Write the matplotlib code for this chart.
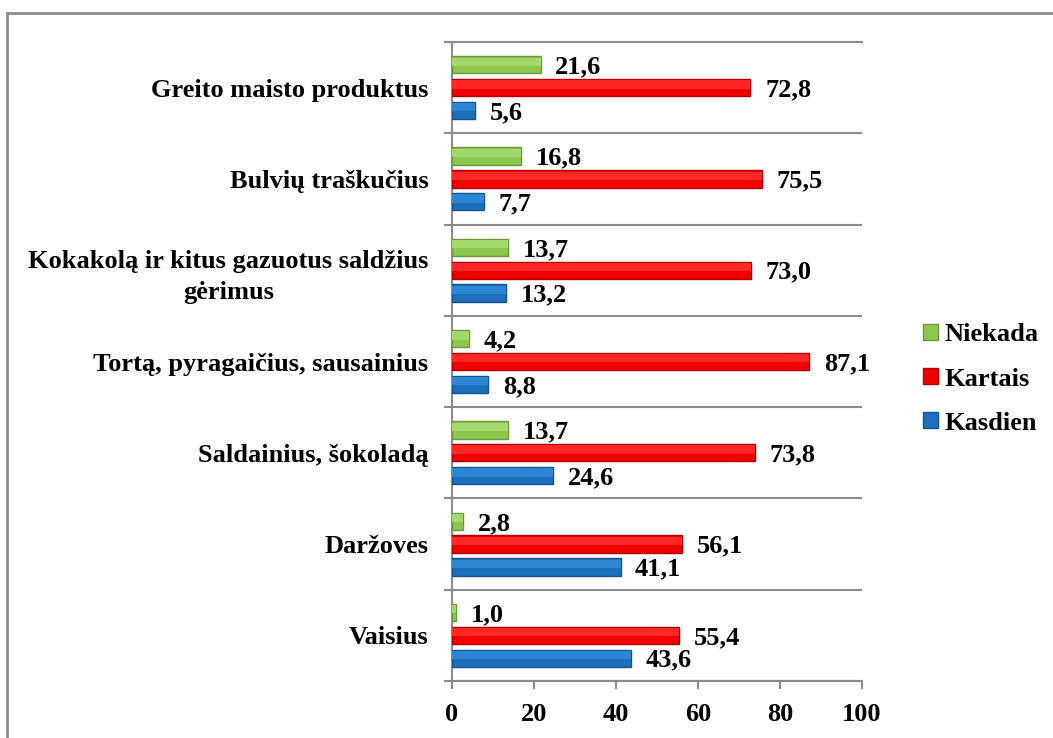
import matplotlib.pyplot as plt
import numpy as np

categories = ['Vaisius', 'Daržoves', 'Saldainius, šokoladą',
              'Tortą, pyragaičius, sausainius',
              'Kokakolą ir kitus gazuotus saldžius\ngėrimus',
              'Bulvių traškučius', 'Greito maisto produktus']
niekada = [1.0, 2.8, 13.7, 4.2, 13.7, 16.8, 21.6]
kartais = [55.4, 56.1, 73.8, 87.1, 73.0, 75.5, 72.8]
kasdien = [43.6, 41.1, 24.6, 8.8, 13.2, 7.7, 5.6]
series_names = ['Niekada', 'Kartais', 'Kasdien']
x_ticks = [0, 20, 40, 60, 80, 100]

plt.rcParams['font.family'] = ['Liberation Serif', 'DejaVu Serif']
plt.rcParams['font.weight'] = 'bold'
fs = 19
grey = '#8c8c8c'

fig = plt.figure(figsize=(10.53, 7.38), dpi=100)
ax = fig.add_axes([452 / 1053, 1 - 681 / 738, 410 / 1053, 639 / 738])

y = np.arange(len(categories))
h = 0.19
styles = [  # face, highlight, edge
    ('#8cc84e', '#a4d76c', '#6a9a38'),
    ('#f00000', '#ff2626', '#b00000'),
    ('#1c6fbd', '#2c86d4', '#15528f'),
]
offsets = [0.25, 0.0, -0.25]
handles = []
for vals, off, (fc, hc, ec), name in zip([niekada, kartais, kasdien], offsets, styles, series_names):
    b = ax.barh(y + off, vals, height=h, color=fc, edgecolor=ec, linewidth=1, label=name, zorder=3)
    # slightly lighter upper band, like the bevelled bars of the original
    ax.barh(y + off + 0.035, vals, height=0.09, color=hc, linewidth=0, zorder=4)
    handles.append(b)
    for yy, v in zip(y + off, vals):
        ax.annotate(f'{v:.1f}'.replace('.', ','), (v, yy), xytext=(10.5, -1.5),
                    textcoords='offset points', va='center', ha='left',
                    fontsize=fs, fontweight='bold')

ax.set_xlim(0, 100)
ax.set_ylim(-0.5, len(categories) - 0.5)
ax.set_xticks(x_ticks)
ax.set_xticklabels([str(t) for t in x_ticks], fontsize=fs, fontweight='bold')
ax.tick_params(axis='x', length=6, width=1.5, color=grey, pad=10)

ax.set_yticks(np.arange(-0.5, len(categories)))
ax.set_yticklabels([])
ax.tick_params(axis='y', which='major', length=6, width=1.5, color=grey)
ax.set_yticks(y, minor=True)
ax.set_yticklabels(categories, minor=True, fontsize=fs, fontweight='bold')
ax.tick_params(axis='y', which='minor', length=0, pad=17)
for lab in ax.get_yticklabels(minor=True):
    lab.set_multialignment('center')
    lab.set_linespacing(1.45)

ax.yaxis.grid(True, which='major', color=grey, linewidth=1.5, zorder=0)
for s in ['left', 'bottom', 'top']:
    ax.spines[s].set_color(grey)
    ax.spines[s].set_linewidth(1.5)
ax.spines['right'].set_visible(False)

fig.legend(handles, series_names, loc='center left', bbox_to_anchor=(923 / 1053, 1 - 379 / 738),
           frameon=False, prop={'weight': 'bold', 'size': fs},
           handlelength=0.55, handleheight=0.55, handletextpad=0.25,
           labelspacing=0.8, borderpad=0, borderaxespad=0)

# outer chart border (only top and left edges fall inside the picture)
fig.add_artist(plt.Line2D([7 / 1053, 1], [1 - 13 / 738, 1 - 13 / 738], color=grey, linewidth=2,
                          transform=fig.transFigure))
fig.add_artist(plt.Line2D([7 / 1053, 7 / 1053], [0, 1 - 13 / 738], color=grey, linewidth=2,
                          transform=fig.transFigure))

fig.savefig('out.png', dpi=100)
